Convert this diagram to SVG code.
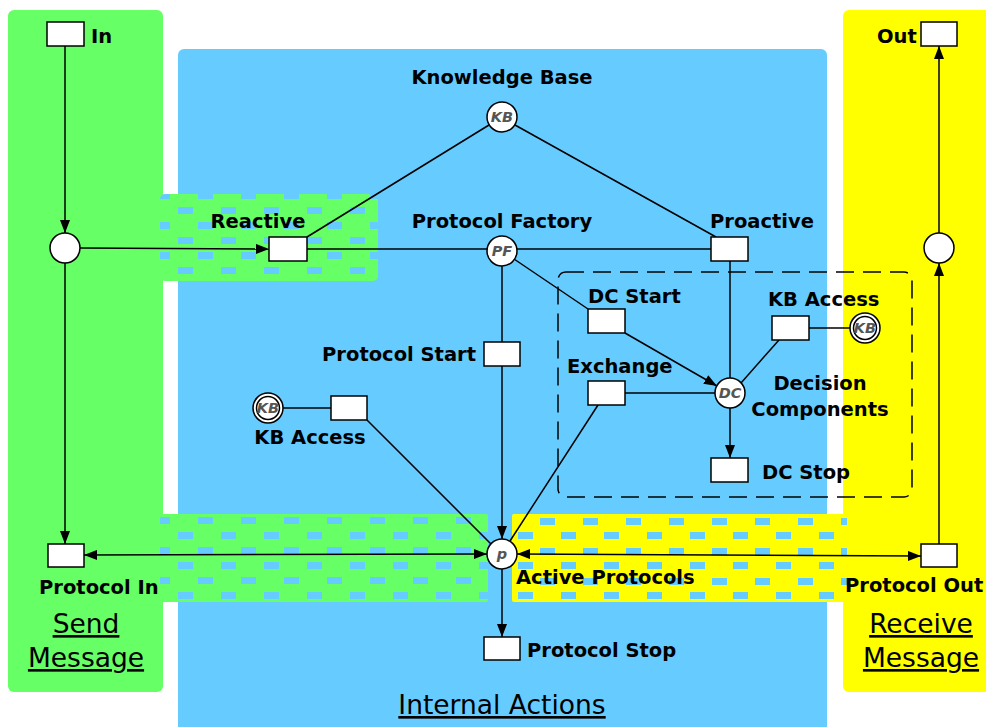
<svg xmlns="http://www.w3.org/2000/svg" width="986" height="727" viewBox="0 0 986 727">
<defs>
<style>
.lbl{font-family:"DejaVu Sans","Verdana",sans-serif;font-weight:bold;font-size:19.5px;fill:#000}
.big{font-family:"DejaVu Sans","Verdana",sans-serif;font-size:26.5px;fill:#000;text-decoration:underline}
.cl{font-family:"DejaVu Sans","Verdana",sans-serif;font-weight:bold;font-style:italic;font-size:14.5px;fill:#555;text-anchor:middle}
.tr{fill:#fff;stroke:#000;stroke-width:1.5}
.pl{fill:#fff;stroke:#000;stroke-width:1.5}
.e{stroke:#000;stroke-width:1.5;fill:none}
.ea{stroke:#000;stroke-width:1.5;fill:none;marker-end:url(#ah)}
.eb{stroke:#000;stroke-width:1.5;fill:none;marker-end:url(#ah);marker-start:url(#as)}
</style>
<marker id="ah" viewBox="0 0 13 10" refX="13" refY="5" markerWidth="13" markerHeight="10" markerUnits="userSpaceOnUse" orient="auto"><path d="M0,0 L13,5 L0,10 z" fill="#000"/></marker>
<marker id="as" viewBox="0 0 13 10" refX="0" refY="5" markerWidth="13" markerHeight="10" markerUnits="userSpaceOnUse" orient="auto"><path d="M13,0 L0,5 L13,10 z" fill="#000"/></marker>
<pattern id="pg1" patternUnits="userSpaceOnUse" x="178" y="207" width="43" height="30"><rect width="43" height="30" fill="#66FF66"/><rect x="0" y="0" width="15" height="7" fill="#66CCFF"/><rect x="20" y="15" width="15" height="7" fill="#66CCFF"/></pattern>
<pattern id="pg2" patternUnits="userSpaceOnUse" x="178" y="502" width="43" height="30"><rect width="43" height="30" fill="#66FF66"/><rect x="0" y="0" width="15" height="7" fill="#66CCFF"/><rect x="20" y="15" width="15" height="7" fill="#66CCFF"/></pattern>
<pattern id="py" patternUnits="userSpaceOnUse" x="518" y="502" width="43" height="30"><rect width="43" height="30" fill="#FFFF00"/><rect x="0" y="0" width="15" height="7" fill="#66CCFF"/><rect x="22" y="16" width="15" height="7" fill="#66CCFF"/></pattern>
</defs>
<rect width="986" height="727" fill="#fff"/>
<g id="panels">
<rect x="8" y="10" width="155" height="682" rx="6" fill="#66FF66"/>
<rect x="178" y="49" width="649" height="690" rx="6" fill="#66CCFF"/>
<rect x="843" y="10" width="150" height="682" rx="6" fill="#FFFF00"/>
<rect x="160" y="194" width="218" height="87" rx="5" fill="url(#pg1)"/>
<rect x="160" y="514" width="328" height="88" rx="2" fill="url(#pg2)"/>
<rect x="512" y="514" width="335" height="88" rx="2" fill="url(#py)"/>
<rect x="558" y="272" width="354" height="225" rx="8" fill="none" stroke="#000" stroke-width="1.5" stroke-dasharray="18 9"/>
<text class="big" x="502" y="714" text-anchor="middle">Internal Actions</text>
<text class="big" x="86" y="633" text-anchor="middle">Send</text>
<text class="big" x="86" y="667" text-anchor="middle">Message</text>
<text class="big" x="921" y="633" text-anchor="middle">Receive</text>
<text class="big" x="921" y="667" text-anchor="middle">Message</text>
</g>
<g id="connectors">
<line class="ea" x1="65" y1="46" x2="65" y2="233"/>
<line class="ea" x1="65" y1="263" x2="65" y2="544"/>
<line class="ea" x1="80" y1="248" x2="269" y2="249"/>
<line class="e" x1="307" y1="249" x2="711" y2="249"/>
<line class="e" x1="307" y1="237" x2="489" y2="125"/>
<line class="e" x1="515" y1="125" x2="716" y2="237"/>
<line class="e" x1="514" y1="259" x2="588" y2="309"/>
<line class="e" x1="502" y1="266" x2="502" y2="342"/>
<line class="ea" x1="502" y1="366" x2="502" y2="539"/>
<line class="e" x1="730" y1="261" x2="730" y2="378"/>
<line class="ea" x1="625" y1="333" x2="717" y2="386"/>
<line class="e" x1="625" y1="393" x2="715" y2="393"/>
<line class="e" x1="779" y1="340" x2="741" y2="383"/>
<line class="e" x1="809" y1="328" x2="850" y2="328"/>
<line class="ea" x1="730" y1="408" x2="730" y2="458"/>
<line class="e" x1="598" y1="405" x2="510" y2="541"/>
<line class="e" x1="283" y1="408" x2="331" y2="408"/>
<line class="e" x1="367" y1="420" x2="491" y2="544"/>
<line class="eb" x1="84" y1="555" x2="487" y2="554"/>
<line class="eb" x1="517" y1="554" x2="921" y2="556"/>
<line class="ea" x1="502" y1="569" x2="502" y2="637"/>
<line class="ea" x1="939" y1="545" x2="939" y2="263"/>
<line class="ea" x1="939" y1="233" x2="939" y2="46"/>
</g>
<g id="in"><rect class="tr" x="47" y="22" width="37" height="24"/><text class="lbl" x="91" y="43">In</text></g>
<g id="c1"><circle class="pl" cx="65" cy="248" r="15"/></g>
<g id="reactive"><rect class="tr" x="269" y="237" width="38" height="24"/><text class="lbl" x="258" y="228" text-anchor="middle">Reactive</text></g>
<g id="kb"><circle class="pl" cx="502" cy="117" r="15"/><text class="cl" x="502" y="122">KB</text><text class="lbl" x="502" y="84" text-anchor="middle">Knowledge Base</text></g>
<g id="pf"><circle class="pl" cx="502" cy="251" r="15"/><text class="cl" x="502" y="256">PF</text><text class="lbl" x="502" y="228" text-anchor="middle">Protocol Factory</text></g>
<g id="proactive"><rect class="tr" x="711" y="237" width="37" height="24"/><text class="lbl" x="710" y="228">Proactive</text></g>
<g id="dcstart"><rect class="tr" x="588" y="309" width="37" height="24"/><text class="lbl" x="588" y="303">DC Start</text></g>
<g id="exchange"><rect class="tr" x="588" y="381" width="37" height="24"/><text class="lbl" x="567" y="373">Exchange</text></g>
<g id="kbaccess2"><rect class="tr" x="772" y="316" width="37" height="24"/><text class="lbl" x="768" y="306">KB Access</text><circle class="pl" cx="865" cy="328" r="15"/><circle class="pl" cx="865" cy="328" r="11.5"/><text class="cl" x="865" y="333">KB</text></g>
<g id="dc"><circle class="pl" cx="730" cy="393" r="15"/><text class="cl" x="730" y="398">DC</text><text class="lbl" x="820" y="390" text-anchor="middle">Decision</text><text class="lbl" x="820" y="416" text-anchor="middle">Components</text></g>
<g id="dcstop"><rect class="tr" x="711" y="458" width="37" height="24"/><text class="lbl" x="762" y="479">DC Stop</text></g>
<g id="pstart"><rect class="tr" x="484" y="342" width="36" height="24"/><text class="lbl" x="476" y="361" text-anchor="end">Protocol Start</text></g>
<g id="kbaccess1"><circle class="pl" cx="268" cy="408" r="15"/><circle class="pl" cx="268" cy="408" r="11.5"/><text class="cl" x="268" y="413">KB</text><rect class="tr" x="331" y="396" width="36" height="24"/><text class="lbl" x="310" y="444" text-anchor="middle">KB Access</text></g>
<g id="p"><circle class="pl" cx="502" cy="554" r="15"/><text class="cl" x="502" y="559">p</text><text class="lbl" x="516" y="584">Active Protocols</text></g>
<g id="pin"><rect class="tr" x="48" y="544" width="36" height="23"/><text class="lbl" x="39" y="594">Protocol In</text></g>
<g id="pout"><rect class="tr" x="921" y="544" width="36" height="23"/><text class="lbl" x="845" y="592">Protocol Out</text></g>
<g id="pstop"><rect class="tr" x="484" y="637" width="36" height="23"/><text class="lbl" x="527" y="657">Protocol Stop</text></g>
<g id="c2"><circle class="pl" cx="939" cy="248" r="15"/></g>
<g id="out"><rect class="tr" x="921" y="22" width="36" height="24"/><text class="lbl" x="877" y="43">Out</text></g>
</svg>
